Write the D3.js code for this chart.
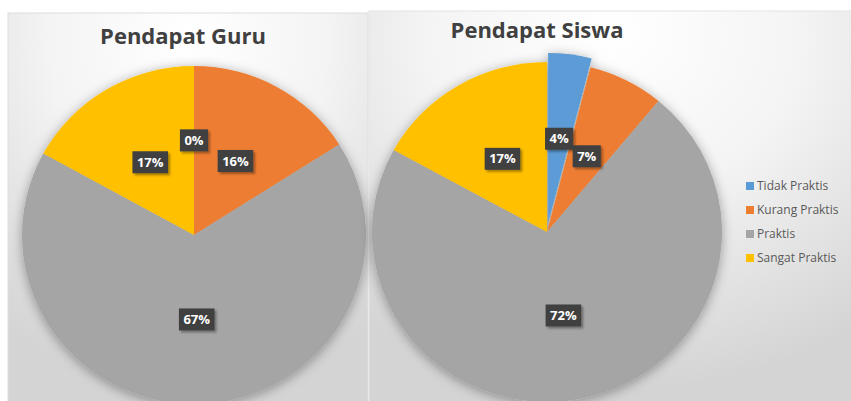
<!DOCTYPE html>
<html><head><meta charset="utf-8">
<script src="https://cdn.jsdelivr.net/npm/d3@7"></script>
<style>body{margin:0;background:#fff}svg{display:block}</style>
</head><body>
<svg id="c" width="851" height="401"></svg>
<script>
const categories = ["Tidak Praktis","Kurang Praktis","Praktis","Sangat Praktis"];
const guruValues = [0, 16, 67, 17];
const siswaValues = [4, 7, 72, 17];
const guruLabels = ["0%","16%","67%","17%"];
const siswaLabels = ["4%","7%","72%","17%"];
const colors = ["#5B9BD5","#ED7D31","#A5A5A5","#FFC000"];

const svg = d3.select("#c");
const defs = svg.append("defs");
const rg = defs.append("radialGradient").attr("id","bg").attr("cx","50%").attr("cy","10%").attr("r","85%").attr("fx","50%").attr("fy","5%");
rg.append("stop").attr("offset","0%").attr("stop-color","#ffffff");
rg.append("stop").attr("offset","45%").attr("stop-color","#f4f4f4");
rg.append("stop").attr("offset","100%").attr("stop-color","#d4d4d4");
const sh = defs.append("filter").attr("id","pshadow").attr("x","-20%").attr("y","-20%").attr("width","140%").attr("height","140%");
sh.append("feDropShadow").attr("dx",0).attr("dy",2).attr("stdDeviation",6).attr("flood-color","#000").attr("flood-opacity",0.35);
const ls = defs.append("filter").attr("id","lshadow").attr("x","-20%").attr("y","-20%").attr("width","150%").attr("height","150%");
ls.append("feDropShadow").attr("dx",2).attr("dy",2).attr("stdDeviation",1).attr("flood-color","#000").attr("flood-opacity",0.35);

// panels
svg.append("rect").attr("x",8).attr("y",13).attr("width",360).attr("height",400).attr("fill","url(#bg)").attr("stroke","#dedede").attr("stroke-width",1);
svg.append("rect").attr("x",369).attr("y",11).attr("width",490).attr("height",400).attr("fill","url(#bg)").attr("stroke","#e4e4e4").attr("stroke-width",1);

function drawPie(values, labels, title, cx, cy, rx, ry, titleX, titleY, explodeIdx) {
  const g = svg.append("g").attr("transform", `translate(${cx},${cy})`);
  svg.append("text").attr("x",titleX).attr("y",titleY).attr("text-anchor","middle")
    .attr("font-family","'Open Sans', sans-serif").attr("font-weight","bold").attr("font-size",22)
    .attr("fill","#404040").text(title);
  const pie = d3.pie().sort(null).value(d => d)(values);
  const r = ry;
  const arc = d3.arc().innerRadius(0).outerRadius(r);
  const sx = rx / ry;
  const pg = g.append("g").attr("filter","url(#pshadow)");
  pie.forEach((p, i) => {
    if (p.endAngle - p.startAngle <= 0) return;
    const mid = (p.startAngle + p.endAngle) / 2;
    const off = i === explodeIdx ? 9 : 0;
    pg.append("path").attr("d", arc(p))
      .attr("transform", `translate(${off*Math.sin(mid)},${-off*Math.cos(mid)}) scale(${sx},1)`)
      .attr("fill", colors[i]);
  });
  pie.forEach((p, i) => {
    const mid = (p.startAngle + p.endAngle) / 2;
    const off = i === explodeIdx ? 9 : 0;
    const lr = (p.endAngle - p.startAngle) <= 0 ? 0.56*r : 0.5*r;
    const x = (lr + off) * Math.sin(mid) * sx;
    const y = -(lr + off) * Math.cos(mid);
    const lg = g.append("g").attr("transform", `translate(${x},${y})`);
    const t = lg.append("text").attr("text-anchor","middle").attr("dy","0.35em")
      .attr("font-family","'Open Sans', sans-serif").attr("font-weight","bold").attr("font-size",13)
      .attr("fill","#fff").text(labels[i]);
    const w = t.node().getComputedTextLength() + 9;
    lg.insert("rect","text").attr("x",-w/2).attr("y",-11).attr("width",w).attr("height",22)
      .attr("fill","#404040").attr("filter","url(#lshadow)");
  });
}

drawPie(guruValues, guruLabels, "Pendapat Guru", 194, 235, 172, 169, 183, 44, -1);
drawPie(siswaValues, siswaLabels, "Pendapat Siswa", 547, 232, 175, 170, 537, 38, 0);

// legend
const leg = svg.append("g").attr("transform","translate(746,186)");
categories.forEach((c, i) => {
  const row = leg.append("g").attr("transform", `translate(0,${i*24})`);
  row.append("rect").attr("x",0).attr("y",-4).attr("width",8).attr("height",8).attr("fill",colors[i]);
  row.append("text").attr("x",11).attr("y",0).attr("dy","0.35em")
    .attr("font-family","'Open Sans', sans-serif").attr("font-size",12).attr("fill","#595959").text(c);
});
</script>
</body></html>
